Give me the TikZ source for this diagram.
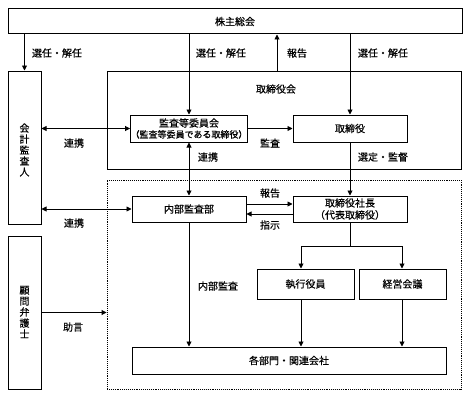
\documentclass[tikz,border=0pt]{standalone}
\usepackage{fontspec}
\setmainfont{Noto Sans CJK JP}[FakeBold=0.4]
\usetikzlibrary{arrows.meta,calc}
\begin{document}
\begin{tikzpicture}[x=1pt,y=-1pt,
  font=\fontsize{10}{12}\selectfont,
  bx/.style={draw, line width=1pt, inner sep=0pt, align=center},
  ar/.style={-{Triangle[length=5pt,width=5pt]}, line width=0.9pt},
  dar/.style={{Triangle[length=5pt,width=5pt]}-{Triangle[length=5pt,width=5pt]}, line width=0.9pt},
  ln/.style={line width=0.9pt},
  lb/.style={inner sep=0pt},
  vt/.style={inner sep=0pt, align=center, font=\fontsize{10}{11}\selectfont}
]
\useasboundingbox (0,0) rectangle (468,396);

% boxes
\node[bx, minimum width=454pt, minimum height=25pt] (sh) at (235,21.5) {株主総会};
\node[bx, minimum width=33pt, minimum height=153pt] (ka) at (24.5,147.5) {};
\node[vt] (kat) at (24.5,150) {会\\計\\監\\査\\人};
\node[bx, minimum width=33pt, minimum height=153pt] (km) at (24.5,312.5) {};
\node[vt] (kmt) at (24.5,312) {顧\\問\\弁\\護\\士};
\node[bx, minimum width=354pt, minimum height=98pt] (tk) at (284,120) {};
\node[lb] (tkt) at (276,89) {取締役会};
\node[bx, minimum width=114pt, minimum height=27pt] (ki) at (189,128.5)
  {監査等委員会\\[-1pt]{\fontsize{9}{10}\selectfont （監査等委員である取締役）}};
\node[bx, minimum width=114pt, minimum height=27pt] (tr) at (350,128.5) {取締役};
\node[draw, densely dotted, line width=0.9pt, inner sep=0pt, minimum width=354pt, minimum height=209pt] (dt) at (284,284.5) {};
\node[bx, minimum width=114pt, minimum height=26pt] (nb) at (189,209) {内部監査部};
\node[bx, minimum width=114pt, minimum height=26pt] (sc) at (350,209) {取締役社長\\（代表取締役）};
\node[bx, minimum width=97pt, minimum height=30pt] (sy) at (305.5,284) {執行役員};
\node[bx, minimum width=87pt, minimum height=30pt] (kg) at (402.5,284) {経営会議};
\node[bx, minimum width=314pt, minimum height=27pt] (kb) at (289,360.5) {各部門・関連会社};

% connectors
\draw[ar] (sh.south -| ka.north) -- (ka.north);
\draw[ar] (sh.south -| ki.north) -- (ki.north);
\draw[ar] (277,0 |- tk.north) -- (277,0 |- sh.south);
\draw[ar] (sh.south -| tr.north) -- (tr.north);
\draw[ar] (ki.east) -- (tr.west);
\draw[dar] (ka.east |- ki.west) -- (ki.west);
\draw[dar] (ki.south) -- (nb.north);
\draw[ar] (tr.south) -- (sc.north);
\draw[ar] ([yshift=5pt]nb.east) -- ([yshift=5pt]sc.west);
\draw[ar] ([yshift=-5pt]sc.west) -- ([yshift=-5pt]nb.east);
\draw[dar] (ka.east |- nb.west) -- (nb.west);
\draw[ar] (nb.south) -- (nb.south |- kb.north);
\draw[ar] (km.east) -- (km.east -| dt.west);
\coordinate (bl) at (301,246);
\coordinate (br) at (402,246);
\draw[ln] (sc.south) -- (sc.south |- bl);
\draw[ln] (bl) -- (br);
\draw[ar] (bl) -- (bl |- sy.north);
\draw[ar] (br) -- (br |- kg.north);
\draw[ar] (bl |- sy.south) -- (bl |- kb.north);
\draw[ar] (br |- kg.south) -- (br |- kb.north);

% labels
\node[lb] (l1) at (57,53) {選任・解任};
\node[lb] (l2) at (221,53) {選任・解任};
\node[lb] (l3) at (297,53) {報告};
\node[lb] (l4) at (383,53) {選任・解任};
\node[lb] (l5) at (74,143) {連携};
\node[lb] (l6) at (270,143) {監査};
\node[lb] (l7) at (208,157) {連携};
\node[lb] (l8) at (383,157) {選定・監督};
\node[lb] (l9) at (270,193) {報告};
\node[lb] (l10) at (270,225) {指示};
\node[lb] (l11) at (74,223) {連携};
\node[lb] (l12) at (218,286) {内部監査};
\node[lb] (l13) at (73,327) {助言};
\end{tikzpicture}
\end{document}
